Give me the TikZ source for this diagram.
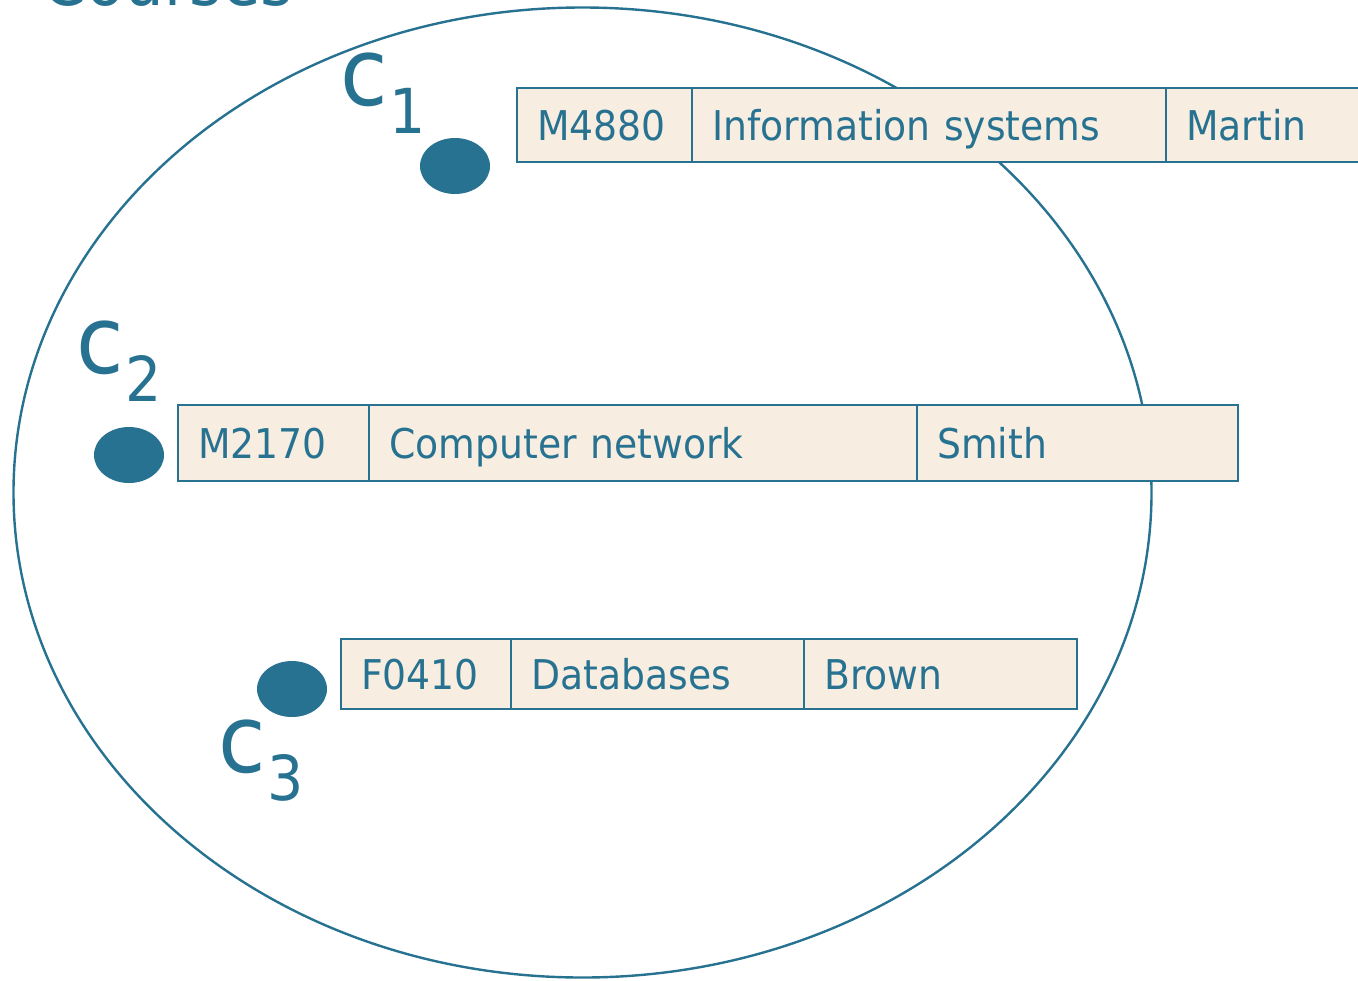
\documentclass[tikz,border=0pt]{standalone}
\usepackage{fontspec}
\setmainfont{DejaVu Sans}[FakeStretch=0.92]
\usetikzlibrary{shapes.geometric}
\definecolor{ink}{RGB}{40,114,145}
\definecolor{cellbg}{RGB}{247,237,224}
\tikzset{
  cell/.style={draw=ink, fill=cellbg, line width=1.2pt, anchor=north west, inner xsep=10pt, inner ysep=0pt, align=left, text=ink, text height=15pt, text depth=0pt, font=\fontsize{20.5}{22}\selectfont},
  dot/.style={ellipse, fill=ink, draw=none, minimum width=35pt, minimum height=28pt, inner sep=0pt},
  clabel/.style={anchor=base west, inner sep=0pt, text=ink},
}
\newcommand{\clab}[1]{{\fontsize{47}{47}\selectfont c}\kern1pt\raisebox{-14pt}{\fontsize{31}{31}\selectfont #1}}
\begin{document}
\begin{tikzpicture}[x=0.5pt,y=-0.5pt]
\useasboundingbox (0,0) rectangle (1358,980);
\clip (0,0) rectangle (1358,980);
\node[anchor=base west, inner sep=0pt, text=ink, font=\fontsize{34}{34}\selectfont] (title) at (42,5) {Courses};
\node[ellipse, draw=ink, line width=1.2pt, minimum width=569pt, minimum height=485pt, inner sep=0pt] (set) at (582.5,492.5) {};
% row 1
\node[cell, text width=67.5pt, minimum height=37pt] (a1) at (516,87) {M4880};
\node[cell, text width=217pt, minimum height=37pt] (b1) at (691,87) {Information systems};
\node[cell, text width=107.5pt, minimum height=37pt] (d1) at (1165,87) {Martin};
% row 2
\node[cell, text width=75.5pt, minimum height=38pt] (a2) at (177,404) {M2170};
\node[cell, text width=254pt, minimum height=38pt] (b2) at (368,404) {Computer network};
\node[cell, text width=140.5pt, minimum height=38pt] (d2) at (916,404) {Smith};
% row 3
\node[cell, text width=65pt, minimum height=35pt] (a3) at (340,638) {F0410};
\node[cell, text width=126.5pt, minimum height=35pt] (b3) at (510,638) {Databases};
\node[cell, text width=116.5pt, minimum height=35pt] (d3) at (803,638) {Brown};
% dots
\node[dot] (p1) at (455,166) {};
\node[dot] (p2) at (129,455) {};
\node[dot] (p3) at (292,689) {};
% labels
\node[clabel] (l1) at (340,105) {\clab{1}};
\node[clabel] (l2) at (76,373) {\clab{2}};
\node[clabel] (l3) at (218,772) {\clab{3}};
\end{tikzpicture}
\end{document}
